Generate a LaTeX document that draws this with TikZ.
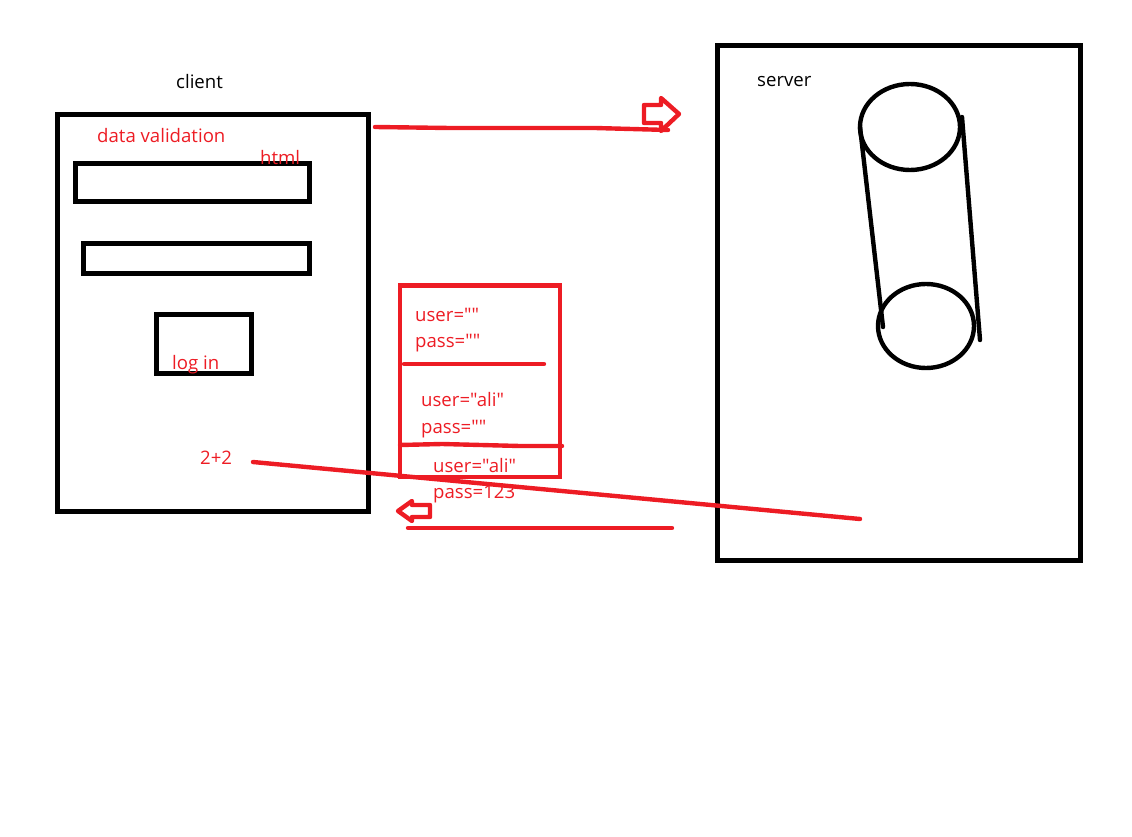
\documentclass[tikz,border=0pt]{standalone}
\usepackage{fontspec}
\setmainfont{Open Sans}[Ligatures=TeXOff]
\definecolor{inkred}{HTML}{ED1C24}
\tikzset{
  blk/.style={draw=black,line width=5pt,line join=miter},
  blkthin/.style={draw=black,line width=4.4pt,line cap=round},
  rd/.style={draw=inkred,line width=4.4pt,line join=miter},
  rdline/.style={draw=inkred,line width=4.4pt,line cap=round,line join=round},
  lblk/.style={text=black,font=\fontsize{18.6}{22}\selectfont,inner sep=0pt,anchor=base west},
  lred/.style={text=inkred,font=\fontsize{18.6}{22}\selectfont,inner sep=0pt,anchor=base west}
}
\begin{document}
\begin{tikzpicture}[x=1pt,y=-1pt]
\useasboundingbox (0,0) rectangle (1132,837);
% client
\draw[blk] (57,114.7) rectangle (368.2,511.5);
\draw[blk] (75,163.7) rectangle (309.2,201.5);
\draw[blk] (83,243.7) rectangle (309.2,273.5);
\draw[blk] (156,314.7) rectangle (251.2,373.5);
% server
\draw[blk] (717,45.7) rectangle (1080.2,560.5);
\draw[blkthin] (910,127) ellipse (50 and 43);
\draw[blkthin] (926,326) ellipse (48 and 42);
\coordinate (tl) at (860,127); \coordinate (bl) at (883,327);
\coordinate (tr) at (962,117); \coordinate (br) at (980,340);
\draw[blkthin] (tl) -- (bl);
\draw[blkthin] (tr) -- (br);
% labels
\node[lblk] (client) at (176,88.5) {client};
\node[lblk] (server) at (757,86.5) {server};
\node[lred] (dv) at (97,142.5) {data validation};
\node[lred] (html) at (260,164.5) {html};
\node[lred] (login) at (172,369) {log in};
\node[lred] (twoplus) at (200,464) {2+2};
% state box
\draw[rd] (400,285.5) rectangle (560,477);
\draw[rdline] (404,364) -- (544,364);
\draw[rdline] (400,445) -- (442,444) -- (520,446) -- (562,446);
\node[lred] (u1) at (415,321) {user=""};
\node[lred] (p1) at (415,347) {pass=""};
\node[lred] (u2) at (421,406) {user="ali"};
\node[lred] (p2) at (421,433) {pass=""};
\node[lred] (u3) at (433,472) {user="ali"};
\node[lred] (p3) at (433,498) {pass=123};
% arrows and lines
\coordinate (a1) at (375,127); \coordinate (a2) at (450,128); \coordinate (a3) at (595,128); \coordinate (a4) at (668,130);
\draw[rdline] (a1) -- (a2) -- (a3) -- (a4);
\coordinate (b1) at (253,462); \coordinate (b2) at (860,519);
\draw[rdline] (b1) -- (b2);
\coordinate (c1) at (408,528); \coordinate (c2) at (672,528);
\draw[rdline] (c1) -- (c2);
\draw[rd,line join=round] (644,105) -- (661,105) -- (661,98) -- (679,114) -- (661,131) -- (661,123) -- (644,123) -- cycle;
\draw[rd,line join=round] (430,505) -- (412,505) -- (412,501) -- (398,511) -- (412,521) -- (412,517) -- (430,517) -- cycle;
\end{tikzpicture}
\end{document}
